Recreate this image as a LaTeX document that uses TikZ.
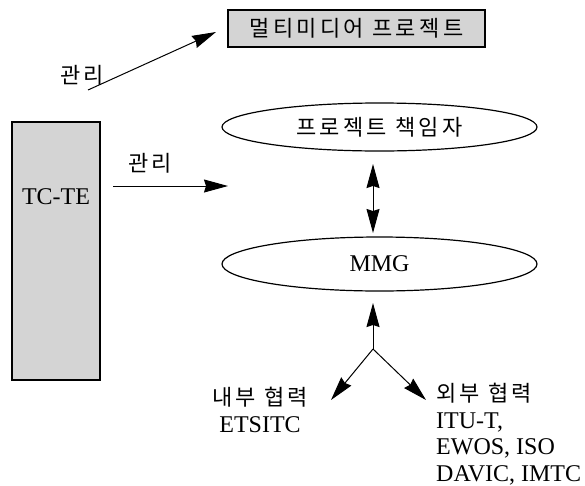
\documentclass[tikz,border=0pt]{standalone}
\usepackage{fontspec}
\setmainfont{Liberation Serif}
\newfontfamily\kr[LetterSpace=15]{Noto Sans CJK KR}
\usetikzlibrary{arrows.meta,shapes.geometric}
\begin{document}
\begin{tikzpicture}[x=1pt,y=-1pt,
  lat/.style={font=\fontsize{24}{26.5}\selectfont},
  krs/.style={font=\kr\fontsize{22}{27}\selectfont},
  graybox/.style={draw, line width=1.2pt, fill=black!17, inner sep=0pt},
  ell/.style={draw, ellipse, line width=1.2pt, minimum width=315pt, inner sep=0pt},
  tip/.tip={Stealth[length=24pt,width=13pt,inset=2pt]},
  arr/.style={line width=1pt, -tip},
  darr/.style={line width=1pt, tip-tip}
]
\useasboundingbox (0,0) rectangle (585,485);
% boxes
\node[graybox, minimum width=257pt, minimum height=37pt, krs] (mp) at (356.5,28.5) {멀티미디어 프로젝트};
\node[graybox, minimum width=88pt, minimum height=258pt] (tc) at (56,251) {};
\node[lat] (tclbl) at (56,197) {TC-TE};
\node[ell, minimum height=48pt, krs] (pr) at (379.5,127) {프로젝트 책임자};
\node[ell, minimum height=54pt, lat] (mmg) at (379.5,264) {MMG};
% labels
\node[krs] (g1) at (82,75) {관리};
\node[krs] (g2) at (150,163) {관리};
% coordinates
\coordinate (a1s) at (88,90);
\coordinate (a1e) at (216,32);
\coordinate (a2s) at (113,186);
\coordinate (a2e) at (228,186);
\coordinate (ds) at (373,164);
\coordinate (de) at (373,233);
\coordinate (br) at (373,349);
\coordinate (up) at (373,303);
\coordinate (lt) at (331,400);
\coordinate (rt) at (426,400);
% arrows
\draw[arr] (a1s) -- (a1e);
\draw[arr] (a2s) -- (a2e);
\draw[darr] (ds) -- (de);
\draw[arr] (br) -- (up);
\draw[arr] (br) -- (lt);
\draw[arr] (br) -- (rt);
% bottom labels
\node[align=center, lat, inner sep=0pt] (in) at (260,410) {{\kr\fontsize{22}{27}\selectfont 내부 협력}\\ETSITC};
\node[align=left, lat, anchor=north west, inner sep=0pt] (ex) at (436,383) {{\kr\fontsize{22}{27}\selectfont 외부 협력}\\ITU-T,\\EWOS, ISO\\DAVIC, IMTC};
\end{tikzpicture}
\end{document}
